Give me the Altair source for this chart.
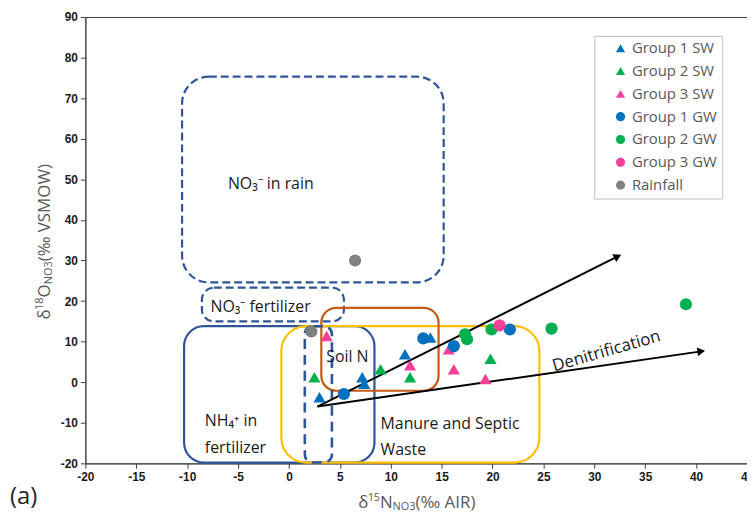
import math
import altair as alt
import pandas as pd

# ---------------- data ----------------
order = ["Group 1 SW", "Group 2 SW", "Group 3 SW", "Group 1 GW", "Group 2 GW", "Group 3 GW", "Rainfall"]
colors = ["#0070C0", "#00B050", "#F5409A", "#0070C0", "#00B050", "#F5409A", "#808080"]
shapes = ["triangle-up", "triangle-up", "triangle-up", "circle", "circle", "circle", "circle"]

g1sw_x = [3.0, 7.2, 7.4, 11.4, 13.9]
g1sw_y = [-3.7, 1.2, -0.4, 6.9, 11.0]
g2sw_x = [2.5, 9.0, 11.9, 19.8]
g2sw_y = [1.2, 3.2, 1.2, 5.8]
g3sw_x = [3.7, 11.9, 15.7, 16.2, 19.3]
g3sw_y = [11.4, 4.2, 8.1, 3.2, 0.8]
g1gw_x = [5.4, 13.2, 16.2, 21.7]
g1gw_y = [-2.9, 10.8, 8.9, 13.0]
g2gw_x = [17.3, 17.5, 19.9, 25.8, 39.0]
g2gw_y = [11.8, 10.6, 13.0, 13.2, 19.2]
g3gw_x = [20.7]
g3gw_y = [14.0]
rain_x = [6.5, 2.2]
rain_y = [30.0, 12.5]

series = [(g1sw_x, g1sw_y), (g2sw_x, g2sw_y), (g3sw_x, g3sw_y),
          (g1gw_x, g1gw_y), (g2gw_x, g2gw_y), (g3gw_x, g3gw_y), (rain_x, rain_y)]

# source boxes: x1, x2, y1, y2
box_rain = [-10.5, 15.2, 75.3, 24.6]
box_no3fert = [-8.55, 5.4, 23.3, 15.0]
box_narrow = [1.56, 4.22, 13.8, -19.8]
box_nh4 = [-10.3, 8.4, 13.8, -19.8]
box_manure = [-0.75, 24.6, 13.8, -19.8]
box_soil = [3.18, 14.7, 18.3, -2.1]

# arrows
arrow_start = [2.8, -6.0]
arrow_ends = [[32.3, 31.0], [40.5, 7.6]]

# annotation labels
lab_text = ["NO₃⁻ in rain", "NO₃⁻ fertilizer", "Soil N", "NH₄⁺ in", "fertilizer", "Manure and Septic", "Waste"]
lab_x = [-6.0, -7.7, 3.66, -8.26, -8.26, 9.0, 9.0]
lab_y = [48.9, 18.6, 6.2, -9.6, -16.3, -10.2, -16.8]

X_DOMAIN = [-20, 45]
Y_DOMAIN = [-20, 90]
W, H = 667, 450

# ---------------- frames ----------------
rows = []
for g, (xs, ys) in zip(order, series):
    for a, b in zip(xs, ys):
        rows.append({"group": g, "x": a, "y": b})
df_pts = pd.DataFrame(rows)

xscale = alt.Scale(domain=X_DOMAIN, nice=False, zero=False)
yscale = alt.Scale(domain=Y_DOMAIN, nice=False, zero=False)
label_font = "Liberation Sans"
axis_common = dict(title=None, grid=False, labelFont=label_font, labelFontWeight="bold",
                   labelFontSize=12, labelColor="#1a1a1a", tickColor="#404040",
                   domainColor="#404040", tickSize=5, labelPadding=3, labelFlush=False,
                   labelOverlap=False, labelExpr="toString(datum.value)")
xaxis = alt.Axis(values=list(range(-20, 46, 5)), **axis_common)
yaxis = alt.Axis(values=list(range(-20, 91, 10)), **axis_common)


def X(field):
    return alt.X(field, type="quantitative", scale=xscale, axis=xaxis)


def Y(field):
    return alt.Y(field, type="quantitative", scale=yscale, axis=yaxis)


def box_layer(b, color, dash=None, radius=15, sw=2.2):
    df = pd.DataFrame([{"x1": b[0], "x2": b[1], "y1": b[2], "y2": b[3]}])
    kw = dict(fillOpacity=0, stroke=color, strokeWidth=sw, cornerRadius=radius)
    if dash:
        kw["strokeDash"] = dash
    return alt.Chart(df).mark_rect(**kw).encode(x=X("x1"), x2="x2", y=Y("y1"), y2="y2")


dark_blue = "#2F5597"
boxes = [
    box_layer(box_rain, dark_blue, [8, 4], 27),
    box_layer(box_no3fert, dark_blue, [8, 4], 12),
    box_layer(box_nh4, dark_blue, None, 20),
    box_layer(box_manure, "#FFC000", None, 25),
    box_layer(box_soil, "#C55A11", None, 15),
    box_layer(box_narrow, dark_blue, [10, 6], 8, 2.6),
]

sx = W / (X_DOMAIN[1] - X_DOMAIN[0])
sy = H / (Y_DOMAIN[1] - Y_DOMAIN[0])
arr_rows, head_rows = [], []
for i, e in enumerate(arrow_ends):
    arr_rows.append({"a": i, "o": 0, "x": arrow_start[0], "y": arrow_start[1]})
    arr_rows.append({"a": i, "o": 1, "x": e[0], "y": e[1]})
    ang = math.degrees(math.atan2(-(e[1] - arrow_start[1]) * sy, (e[0] - arrow_start[0]) * sx)) % 360
    head_rows.append({"x": e[0], "y": e[1], "ang": ang})
df_arr = pd.DataFrame(arr_rows)
df_head = pd.DataFrame(head_rows)

arrows = alt.Chart(df_arr).mark_line(color="black", strokeWidth=2).encode(
    x=X("x"), y=Y("y"), detail="a:N", order="o:Q")
heads = alt.Chart(df_head).mark_point(shape="triangle-right", filled=True, color="black",
                                      size=80, opacity=1).encode(
    x=X("x"), y=Y("y"), angle=alt.Angle("ang:Q", scale=None))

legend = alt.Legend(title=None, orient="none", legendX=513, legendY=19, strokeColor="#bfbfbf",
                    padding=5, symbolOffset=14, labelFontSize=15, labelFont="Open Sans",
                    labelColor="#595959", symbolSize=85, rowPadding=7, symbolStrokeWidth=0,
                    fillColor="white", labelExpr="datum.label + '\u2003\u2003'")
pts = alt.Chart(df_pts).mark_point(filled=True, opacity=1, size=150).encode(
    x=X("x"), y=Y("y"),
    color=alt.Color("group:N", scale=alt.Scale(domain=order, range=colors), legend=legend),
    shape=alt.Shape("group:N", scale=alt.Scale(domain=order, range=shapes), legend=legend),
)

df_lab = pd.DataFrame({"t": lab_text, "x": lab_x, "y": lab_y})
labels = alt.Chart(df_lab).mark_text(align="left", baseline="middle", font="Open Sans",
                                     fontSize=16, color="#1a1a1a").encode(
    x=X("x"), y=Y("y"), text="t:N")
deni = alt.Chart(pd.DataFrame({"t": ["Denitrification"], "x": [31.2], "y": [7.6]})).mark_text(
    align="center", baseline="middle", font="Open Sans", fontSize=17, color="#1a1a1a", angle=344).encode(
    x=X("x"), y=Y("y"), text="t:N")

# ---------------- axis titles with sub/superscripts ----------------
CW = {"δ": 0.56, "0": 0.572, "1": 0.572, "3": 0.572, "5": 0.572, "8": 0.572, "N": 0.74, "O": 0.79,
      "(": 0.296, ")": 0.296, "‰": 0.88, " ": 0.26, "V": 0.59, "S": 0.55, "M": 0.90, "W": 0.92,
      "A": 0.63, "I": 0.32, "R": 0.62}
BIG, SMALL = 17, 11


def width(t, s):
    return sum(CW.get(c, 0.6) for c in t) * s


def pieces(parts):
    out, pos = [], 0.0
    for t, kind in parts:
        s = BIG if kind == "n" else SMALL
        out.append({"t": t, "s": s, "kind": kind, "pos": pos})
        pos += width(t, s)
    return out, pos


xt, xtot = pieces([("δ", "n"), ("15", "sup"), ("N", "n"), ("NO3", "sub"), ("(‰ AIR)", "n")])
yt, ytot = pieces([("δ", "n"), ("18", "sup"), ("O", "n"), ("NO3", "sub"), ("(‰ VSMOW)", "n")])
off = {"n": 0, "sup": -5, "sub": 4}
xrows = [{"t": p["t"], "s": p["s"], "px": 332 - xtot / 2 + p["pos"], "py": 490 + off[p["kind"]]} for p in xt]
yrows = [{"t": p["t"], "s": p["s"], "px": -40.5 + off[p["kind"]], "py": 229 + ytot / 2 - p["pos"]} for p in yt]

xtitle = alt.Chart(pd.DataFrame(xrows)).mark_text(align="left", baseline="middle", font="Open Sans",
                                                  color="#595959").encode(
    x=alt.X("px:Q", scale=None), y=alt.Y("py:Q", scale=None), text="t:N",
    size=alt.Size("s:Q", scale=None, legend=None))
ytitle = alt.Chart(pd.DataFrame(yrows)).mark_text(align="left", baseline="middle", font="Open Sans",
                                                  color="#595959", angle=270).encode(
    x=alt.X("px:Q", scale=None), y=alt.Y("py:Q", scale=None), text="t:N",
    size=alt.Size("s:Q", scale=None, legend=None))
panel = alt.Chart(pd.DataFrame({"t": ["(a)"], "px": [-76], "py": [484]})).mark_text(
    align="left", baseline="middle", font="Open Sans", fontSize=24, color="#262626").encode(
    x=alt.X("px:Q", scale=None), y=alt.Y("py:Q", scale=None), text="t:N")

chart = alt.layer(*boxes, arrows, heads, pts, labels, deni, xtitle, ytitle, panel).properties(
    width=W, height=H,
    padding={"left": 78, "top": 7, "right": 0, "bottom": 52},
    autosize=alt.AutoSizeParams(type="none"),
).configure_view(stroke="#404040", strokeWidth=1).resolve_scale(size="independent")

chart.save("out.html", embed_options={"renderer": "svg", "actions": False})
